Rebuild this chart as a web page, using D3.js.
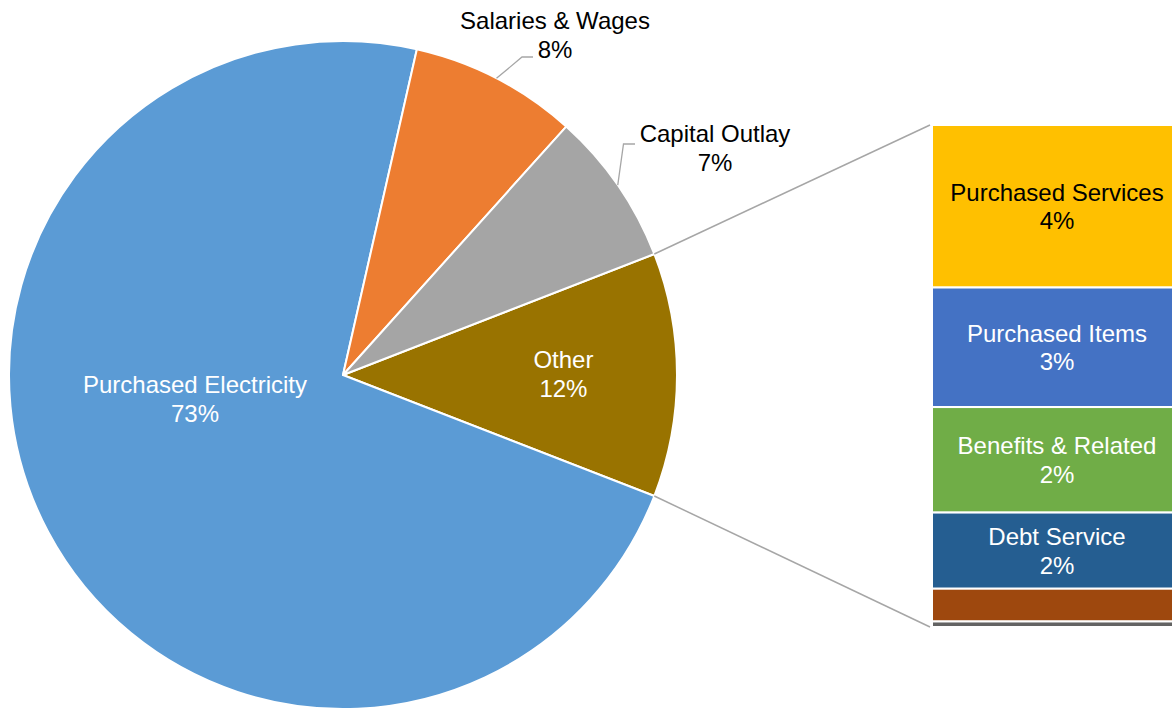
<!DOCTYPE html>
<html>
<head>
<meta charset="utf-8">
<script src="https://cdn.jsdelivr.net/npm/d3@7"></script>
<style>
  html, body { margin: 0; padding: 0; background: #fff; }
  svg { display: block; font-family: "Liberation Sans", Arial, sans-serif; }
</style>
</head>
<body>
<svg id="chart" width="1172" height="709"></svg>
<script>
// Pie categories (share of total spending, %)
const pieCategories = ["Other", "Purchased Electricity", "Salaries & Wages", "Capital Outlay"];
const pieValues = [11.8, 72.65, 8.1, 7.45];
const pieColors = ["#997300", "#5B9BD5", "#ED7D31", "#A5A5A5"];

// Breakdown of "Other" shown as a stacked bar (%)
const barCategories = ["Purchased Services", "Purchased Items", "Benefits & Related", "Debt Service", "", ""];
const barValues = [3.82, 2.81, 2.48, 1.79, 0.77, 0.13];
const barColors = ["#FFC000", "#4472C4", "#70AD47", "#255E91", "#9E480E", "#636363"];
const barTextColors = ["#000", "#fff", "#fff", "#fff", "#fff", "#fff"];

const svg = d3.select("#chart");
const fontSize = 24;
const lineGap = 28.5;

// ---- pie ----
const cx = 343, cy = 375, r = 334;
const otherSpan = pieValues[0] / d3.sum(pieValues) * 2 * Math.PI;
const start = Math.PI / 2 - otherSpan / 2;   // "Other" slice centred on 3 o'clock

const pie = d3.pie().sort(null).value(d => d)
  .startAngle(start).endAngle(start + 2 * Math.PI);
const arcs = pie(pieValues);
const arc = d3.arc().innerRadius(0).outerRadius(r);

const g = svg.append("g").attr("transform", `translate(${cx},${cy})`);
g.selectAll("path.slice").data(arcs).enter().append("path")
  .attr("class", "slice")
  .attr("d", arc)
  .attr("fill", (d, i) => pieColors[i])
  .attr("stroke", "#fff")
  .attr("stroke-width", 2)
  .attr("stroke-linejoin", "round");

const polar = (a, rad) => [rad * Math.sin(a), -rad * Math.cos(a)];

// ---- stacked bar for "Other" ----
const barX = 932, barW = 250, barTop = 125, barBottom = 627;
const y = d3.scaleLinear().domain([0, d3.sum(barValues)]).range([barTop, barBottom]);
let acc = 0;
const stack = barValues.map((v, i) => { const s = { i, v, y0: acc, y1: acc + v }; acc += v; return s; });

// connector lines from the "Other" slice edges to the bar
const oArc = arcs[0];
const p0 = polar(oArc.startAngle, r), p1 = polar(oArc.endAngle, r);
svg.append("line").attr("x1", cx + p0[0]).attr("y1", cy + p0[1])
  .attr("x2", barX - 2).attr("y2", y(0))
  .attr("stroke", "#A6A6A6").attr("stroke-width", 1.5);
svg.append("line").attr("x1", cx + p1[0]).attr("y1", cy + p1[1])
  .attr("x2", barX - 2).attr("y2", y(d3.sum(barValues)))
  .attr("stroke", "#A6A6A6").attr("stroke-width", 1.5);

svg.selectAll("rect.seg").data(stack).enter().append("rect")
  .attr("class", "seg")
  .attr("x", barX)
  .attr("y", d => y(d.y0))
  .attr("width", barW)
  .attr("height", d => y(d.y1) - y(d.y0))
  .attr("fill", d => barColors[d.i])
  .attr("stroke", "#fff")
  .attr("stroke-width", 2);

const fmt = v => Math.round(v) + "%";

function twoLine(sel, x, base1, l1, l2, color) {
  const t = sel.append("text").attr("text-anchor", "middle")
    .attr("font-size", fontSize).attr("fill", color);
  t.append("tspan").attr("x", x).attr("y", base1).text(l1);
  t.append("tspan").attr("x", x).attr("y", base1 + lineGap).text(l2);
}

stack.forEach(d => {
  if (!barCategories[d.i]) return;
  const mid = (y(d.y0) + y(d.y1)) / 2;
  twoLine(svg, barX + barW / 2, mid - 5.5, barCategories[d.i], fmt(d.v), barTextColors[d.i]);
});

// ---- pie labels ----
// labels drawn inside their slices
twoLine(svg, 195, 393, pieCategories[1], fmt(pieValues[1]), "#fff");
const oMid = polar((oArc.startAngle + oArc.endAngle) / 2, r * 0.66);
twoLine(svg, cx + oMid[0], cy + oMid[1] - 7, pieCategories[0], fmt(pieValues[0]), "#fff");

// labels outside the pie, with leader lines from the slice edge
const leader = d3.line();
function outside(i, tx, base1, bend, end) {
  const a = arcs[i];
  const ang = a.startAngle + (a.endAngle - a.startAngle) * 0.5;
  const p = polar(ang, r);
  svg.append("path")
    .attr("d", leader([[cx + p[0], cy + p[1]], bend, end]))
    .attr("fill", "none").attr("stroke", "#A6A6A6").attr("stroke-width", 1.3);
  twoLine(svg, tx, base1, pieCategories[i], fmt(pieValues[i]), "#000");
}
outside(2, 555, 29, [522, 57], [533, 57]);
outside(3, 715, 142, [623.5, 144], [635, 144]);
</script>
</body>
</html>
